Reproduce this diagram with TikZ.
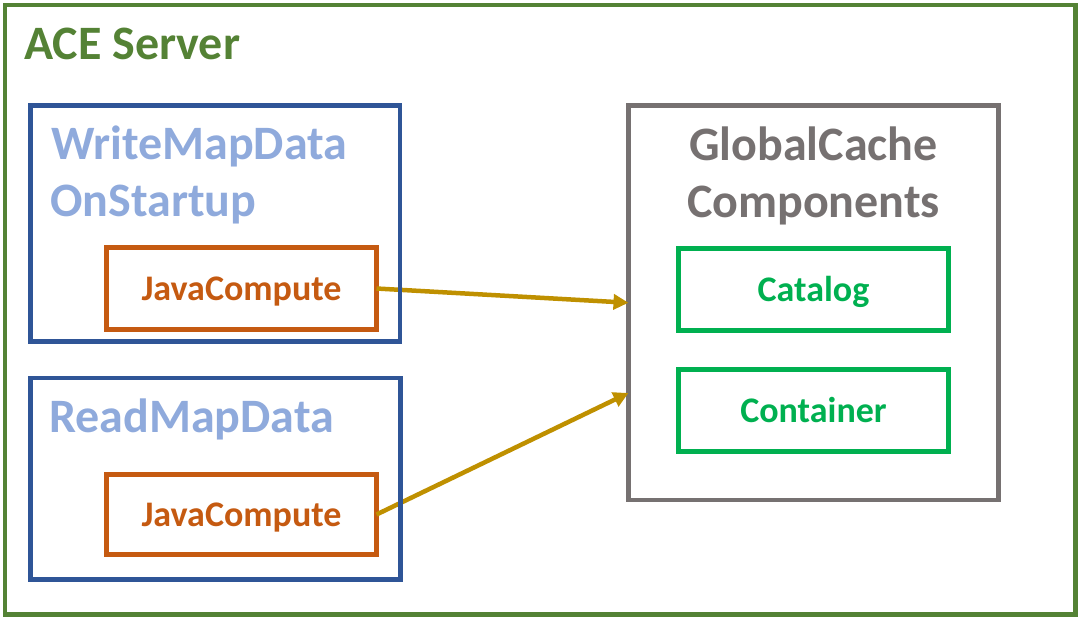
\documentclass[tikz,border=0pt]{standalone}
\usepackage{fontspec}
\setmainfont{Carlito}
\usetikzlibrary{arrows.meta}
\definecolor{servergreen}{HTML}{548235}
\definecolor{flownavy}{HTML}{2F5597}
\definecolor{flowblue}{HTML}{8FAADC}
\definecolor{nodeorange}{HTML}{C55A11}
\definecolor{cachegray}{HTML}{767171}
\definecolor{cachegreen}{HTML}{00B050}
\definecolor{linkgold}{HTML}{BF9000}

\begin{document}
\begin{tikzpicture}[x=1pt,y=-1pt,>={Triangle[length=15pt,width=15pt]},
    box/.style={draw,line width=4.5pt,inner sep=0pt,outer sep=0pt,
      font=\bfseries\fontsize{36}{43}\selectfont,text height=23pt,text depth=0pt},
    title/.style={inner sep=0pt,font=\bfseries\fontsize{48}{58}\selectfont},
    link/.style={->,draw=linkgold,line width=4.5pt}]
        \useasboundingbox (0,0) rectangle (1082,619);

        % server frame
        \node[box,draw=servergreen,minimum width=1070.5pt,minimum height=609.5pt] (server) at (540.25,309.75) {};
        \node[title,text=servergreen,anchor=base west] (servertitle) at (24,59) {ACE Server};

        % global cache
        \node[box,draw=cachegray,minimum width=370pt,minimum height=394.5pt] (cache) at (813.5,302.75) {};
        \node[title,text=cachegray,anchor=base] (cachetitle) at (813.5,160) {GlobalCache};
        \node[title,text=cachegray,anchor=base] (cachetitle2) at (813.5,217) {Components};
        \node[box,color=cachegreen,minimum width=270pt,minimum height=82pt] (catalog) at (813.5,289.5) {Catalog};
        \node[box,color=cachegreen,minimum width=270pt,minimum height=82pt] (container) at (813.5,410.5) {Container};

        % compute nodes
        \node[box,color=nodeorange,minimum width=270pt,minimum height=82pt] (writejc) at (241.5,288.5) {JavaCompute};
        \node[box,color=nodeorange,minimum width=270pt,minimum height=80pt] (readjc) at (241.5,514.5) {JavaCompute};

        \draw[link] (writejc.east) -- (cache.west);
        \draw[link] (readjc.east) -- (cache.206.75);

        % message flows
        \node[box,draw=flownavy,minimum width=369.5pt,minimum height=236pt] (writeflow) at (215.25,223.5) {};
        \node[title,text=flowblue,anchor=base west] (writetitle) at (51,159) {WriteMapData};
        \node[title,text=flowblue,anchor=base west] (writetitle2) at (50,216) {OnStartup};
        \node[box,draw=flownavy,minimum width=370pt,minimum height=201.5pt] (readflow) at (215.5,478.75) {};
        \node[title,text=flowblue,anchor=base west] (readtitle) at (49,432) {ReadMapData};
\end{tikzpicture}
\end{document}
